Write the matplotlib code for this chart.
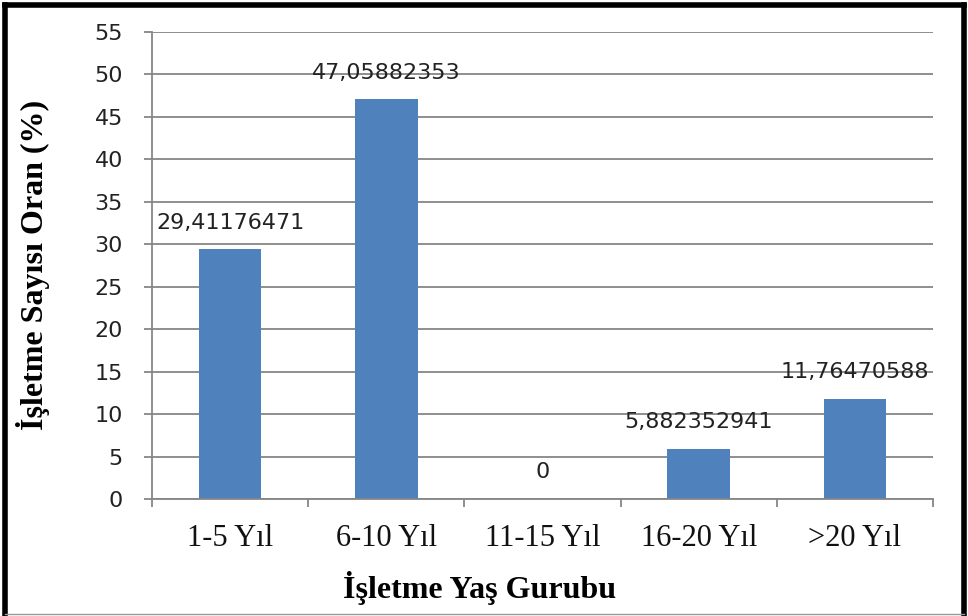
import matplotlib
matplotlib.use("Agg")
import matplotlib.pyplot as plt
from matplotlib.lines import Line2D

# data
groups = ["1-5 Yıl", "6-10 Yıl", "11-15 Yıl", "16-20 Yıl", ">20 Yıl"]
oran = [29.41176471, 47.05882353, 0, 5.882352941, 11.76470588]
yticks = list(range(0, 60, 5))

bar_color = "#4F81BD"
grid_color = "#868686"

fig = plt.figure(figsize=(9.68, 6.16), dpi=100)
ax = fig.add_axes([152/968, 1 - 499/616, (933 - 152)/968, (499 - 32)/616])

x = range(len(groups))
ax.bar(x, oran, width=0.40, color=bar_color, zorder=2)

# value labels, comma as decimal sign
for xi, v in zip(x, oran):
    lbl = f"{v:.10g}".replace(".", ",")
    ax.annotate(lbl, (xi, v), xytext=(0, 12), textcoords="offset points",
                ha="center", va="bottom", fontsize=16, family="DejaVu Sans",
                color="#222222", zorder=3)

ax.set_ylim(0, 55)
ax.set_xlim(-0.5, len(groups) - 0.5)
ax.set_yticks(yticks)
ax.set_yticklabels([str(t) for t in yticks], fontsize=16, family="DejaVu Sans", color="#222222")
ax.yaxis.grid(True, color=grid_color, linewidth=1.3, zorder=0)
ax.set_axisbelow(True)

ax.set_xticks(list(x))
ax.set_xticklabels(groups, fontsize=22, family="Liberation Serif", color="#111111")
ax.set_xticks([i - 0.5 for i in range(len(groups) + 1)], minor=True)
ax.tick_params(axis="x", which="major", length=0, pad=18)
ax.tick_params(axis="x", which="minor", length=6, width=1.3, color=grid_color, direction="out")
ax.tick_params(axis="y", length=6, width=1.3, color=grid_color, pad=15)

for s in ["top", "right"]:
    ax.spines[s].set_visible(False)
for s in ["left", "bottom"]:
    ax.spines[s].set_color(grid_color)
    ax.spines[s].set_linewidth(1.3)

fig.text(480/968, 1 - 588/616, "İşletme Yaş Gurubu", ha="center", va="center",
         fontsize=23, fontweight="bold", family="Liberation Serif")
fig.text(33/968, 1 - 265/616, "İşletme Sayısı Oran (%)", ha="center", va="center",
         rotation=90, fontsize=23, fontweight="bold", family="Liberation Serif")

# frame around the picture
fig.add_artist(Line2D([5/968, 5/968], [0, 1 - 5/616], color="black", linewidth=4))
fig.add_artist(Line2D([5/968, 964/968], [1 - 5/616, 1 - 5/616], color="black", linewidth=4))
fig.add_artist(Line2D([964/968, 964/968], [0, 1 - 5/616], color="black", linewidth=4))
fig.add_artist(Line2D([5/968, 964/968], [1 - 614/616, 1 - 614/616], color="#999999", linewidth=1))

fig.savefig("out.png", dpi=100)
